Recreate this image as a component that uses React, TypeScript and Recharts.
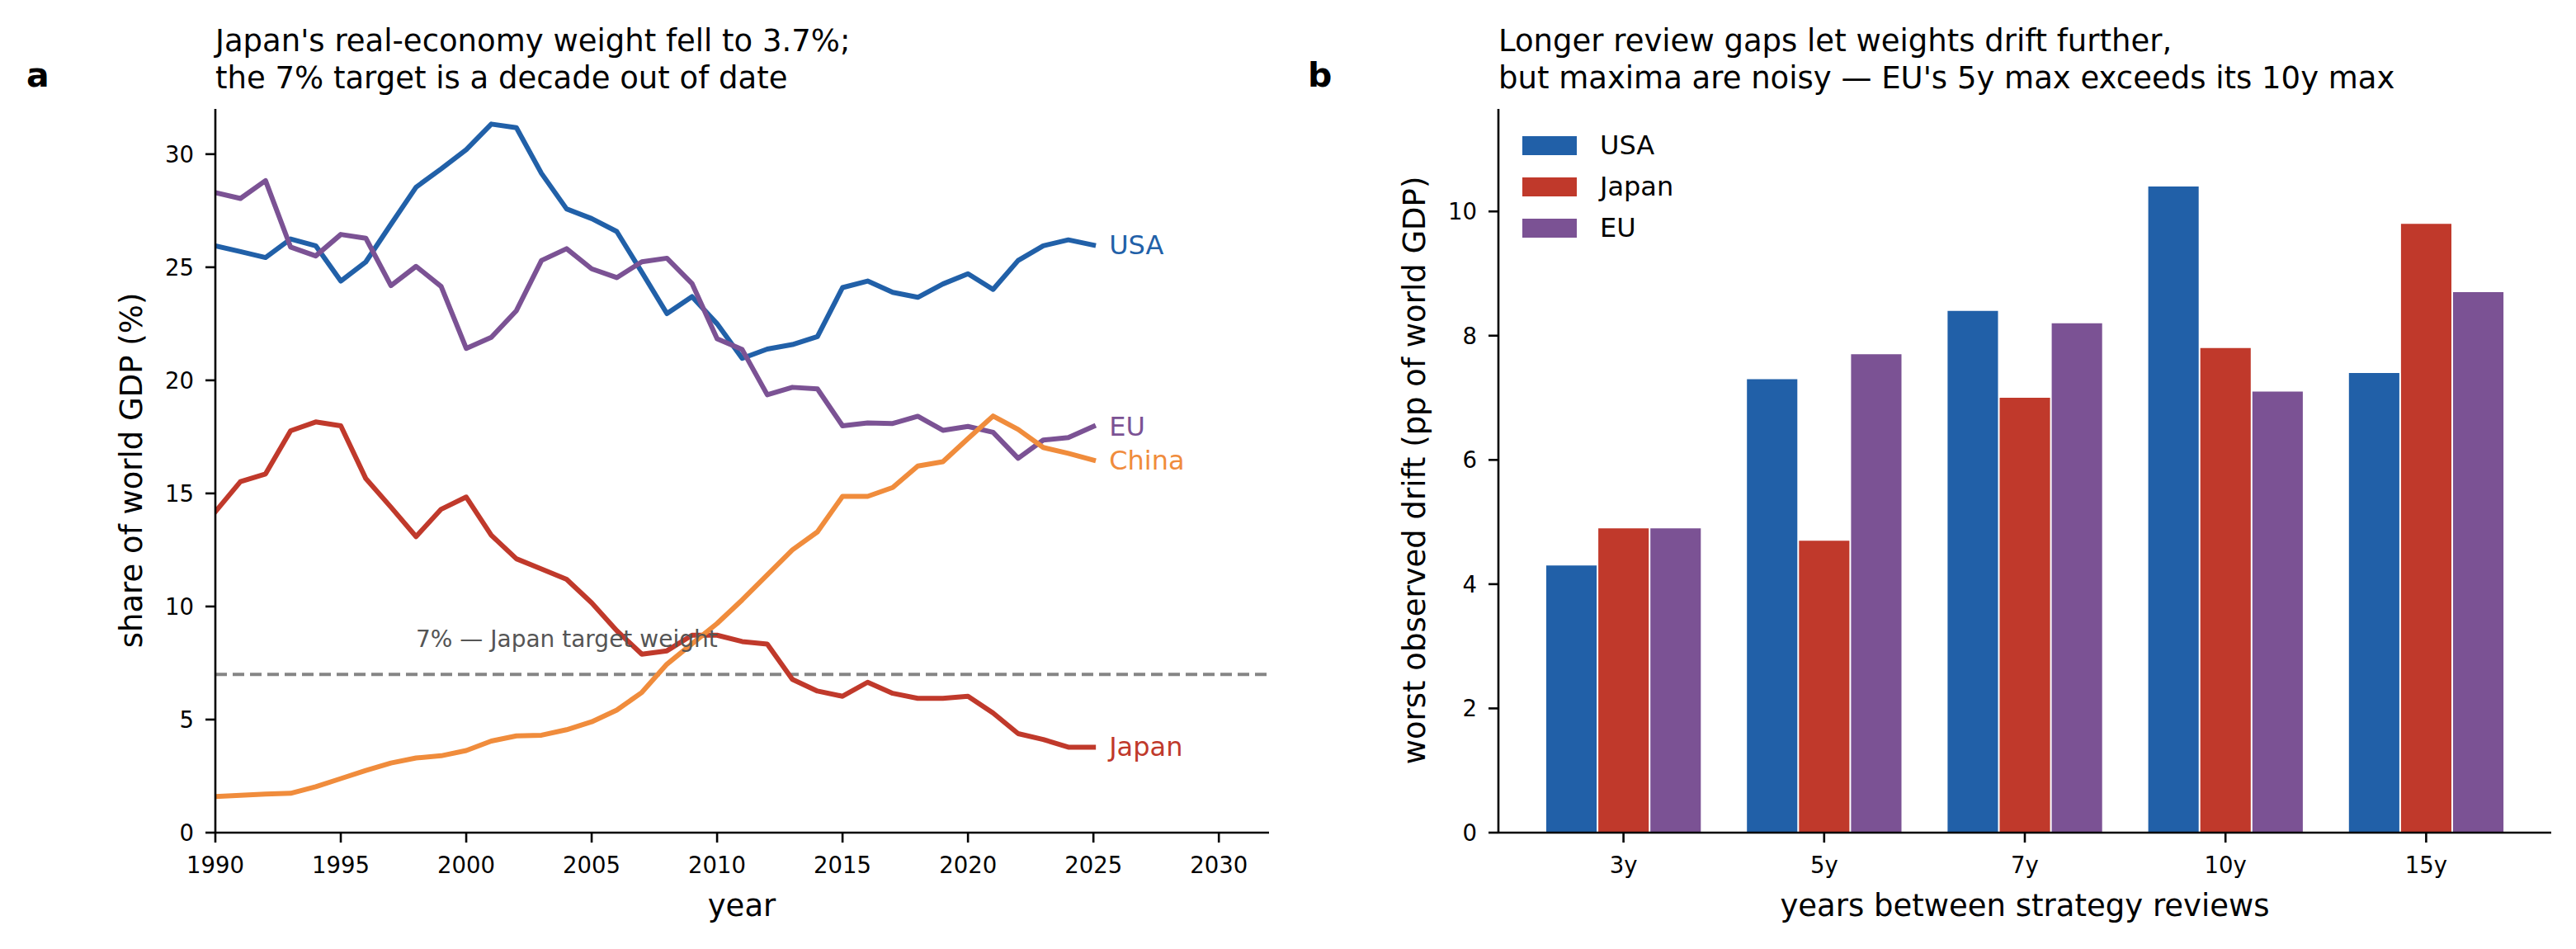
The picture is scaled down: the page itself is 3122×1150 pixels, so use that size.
import React from 'react';
import {
  LineChart, Line, XAxis, YAxis, ReferenceLine,
  BarChart, Bar, Legend,
} from 'recharts';

const FONT = '"DejaVu Sans", "Liberation Sans", sans-serif';

// ---------- panel a data ----------
const years = [
  1990, 1991, 1992, 1993, 1994, 1995, 1996, 1997, 1998, 1999,
  2000, 2001, 2002, 2003, 2004, 2005, 2006, 2007, 2008, 2009,
  2010, 2011, 2012, 2013, 2014, 2015, 2016, 2017, 2018, 2019,
  2020, 2021, 2022, 2023, 2024, 2025,
];
const usaShare = [
  25.95, 25.69, 25.43, 26.25, 25.95, 24.39, 25.24, 26.9, 28.54, 29.35,
  30.2, 31.33, 31.17, 29.15, 27.58, 27.15, 26.58, 24.78, 22.95, 23.7,
  22.5, 20.97, 21.38, 21.58, 21.93, 24.1, 24.39, 23.89, 23.67, 24.26,
  24.71, 24.02, 25.3, 25.95, 26.21, 25.98,
];
const japanShare = [
  14.19, 15.52, 15.86, 17.77, 18.16, 17.99, 15.65, 14.39, 13.09, 14.3,
  14.84, 13.15, 12.11, 11.66, 11.2, 10.16, 8.93, 7.89, 8.04, 8.73,
  8.73, 8.45, 8.34, 6.78, 6.26, 6.03, 6.65, 6.16, 5.94, 5.94,
  6.03, 5.29, 4.38, 4.12, 3.78, 3.78,
];
const euShare = [
  28.3, 28.04, 28.83, 25.89, 25.5, 26.45, 26.28, 24.19, 25.04, 24.15,
  21.41, 21.9, 23.08, 25.3, 25.82, 24.93, 24.54, 25.24, 25.4, 24.28,
  21.84, 21.36, 19.36, 19.69, 19.62, 17.99, 18.12, 18.09, 18.41, 17.79,
  17.96, 17.7, 16.55, 17.36, 17.47, 17.96,
];
const chinaShare = [
  1.6, 1.65, 1.71, 1.74, 2.03, 2.39, 2.75, 3.08, 3.3, 3.4,
  3.63, 4.05, 4.28, 4.31, 4.55, 4.9, 5.42, 6.2, 7.45, 8.35,
  9.25, 10.29, 11.4, 12.5, 13.3, 14.87, 14.87, 15.26, 16.21, 16.4,
  17.42, 18.42, 17.83, 17.03, 16.77, 16.47,
];
const yearTicks = [1990, 1995, 2000, 2005, 2010, 2015, 2020, 2025, 2030];
const shareTicks = [0, 5, 10, 15, 20, 25, 30];
const japanTarget = 7;

// ---------- panel b data ----------
const reviewGaps = ['3y', '5y', '7y', '10y', '15y'];
const usaDrift = [4.3, 7.3, 8.4, 10.4, 7.4];
const japanDrift = [4.9, 4.7, 7.0, 7.8, 9.8];
const euDrift = [4.9, 7.7, 8.2, 7.1, 8.7];
const driftTicks = [0, 2, 4, 6, 8, 10];

const COLORS: Record<string, string> = {
  USA: '#2160a8',
  Japan: '#c0392b',
  EU: '#7b5294',
  China: '#f08c3c',
};

const lineSeries = ['USA', 'Japan', 'EU', 'China'];
const barSeries = ['USA', 'Japan', 'EU'];

const lineData = years.map((year, i) => ({
  year,
  USA: usaShare[i],
  Japan: japanShare[i],
  EU: euShare[i],
  China: chinaShare[i],
}));

const barData = reviewGaps.map((gap, i) => ({
  gap,
  USA: usaDrift[i],
  Japan: japanDrift[i],
  EU: euDrift[i],
}));

const tickStyle = { fill: '#000', fontSize: 27.5, fontFamily: FONT };
const axisLineStyle = { stroke: '#000', strokeWidth: 2.6 };
const tickLineStyle = { stroke: '#000', strokeWidth: 2.6 };

const makeEndLabel = (name: string) => (props: any) => {
  const { x, y, index } = props;
  if (index !== years.length - 1) return <g />;
  return (
    <text
      x={x + 19}
      y={y}
      dominantBaseline="central"
      fontSize={32}
      fontFamily={FONT}
      fill={COLORS[name]}
    >
      {name}
    </text>
  );
};

const LegendBox = () => (
  <div style={{ fontFamily: FONT }}>
    {barSeries.map((name) => (
      <div
        key={name}
        style={{ display: 'flex', alignItems: 'center', height: 50 }}
      >
        <div style={{ width: 66, height: 23, background: COLORS[name] }} />
        <div
          style={{
            marginLeft: 28,
            fontSize: 32,
            lineHeight: '50px',
            color: '#000',
            whiteSpace: 'nowrap',
          }}
        >
          {name}
        </div>
      </div>
    ))}
  </div>
);

export default function App() {
  return (
    <div
      style={{
        position: 'absolute',
        left: 0,
        top: 0,
        width: 3122,
        height: 1150,
        background: '#fff',
        fontFamily: FONT,
        overflow: 'hidden',
      }}
    >
      <div style={{ position: 'absolute', left: 0, top: 0 }}>
        <LineChart
          width={1600}
          height={1150}
          data={lineData}
          margin={{ top: 132, right: 62, bottom: 81, left: 161 }}
        >
          <XAxis
            dataKey="year"
            type="number"
            domain={[1990, 2032]}
            ticks={yearTicks}
            interval={0}
            height={60}
            tick={tickStyle}
            tickSize={12}
            tickMargin={17}
            axisLine={axisLineStyle}
            tickLine={tickLineStyle}
            allowDataOverflow
          />
          <YAxis
            type="number"
            domain={[0, 32]}
            ticks={shareTicks}
            interval={0}
            width={100}
            tick={tickStyle}
            tickSize={12}
            tickMargin={14}
            axisLine={axisLineStyle}
            tickLine={tickLineStyle}
            allowDataOverflow
          />
          <ReferenceLine
            y={japanTarget}
            stroke="#858585"
            strokeWidth={4}
            strokeDasharray="14 7"
          />
          {lineSeries.map((name) => (
            <Line
              key={name}
              type="linear"
              dataKey={name}
              stroke={COLORS[name]}
              strokeWidth={6}
              strokeLinecap="square"
              strokeLinejoin="round"
              dot={false}
              activeDot={false}
              isAnimationActive={false}
              label={makeEndLabel(name)}
            />
          ))}
        </LineChart>
      </div>

      <div style={{ position: 'absolute', left: 1560, top: 0 }}>
        <BarChart
          width={1562}
          height={1150}
          data={barData}
          margin={{ top: 132, right: 30, bottom: 81, left: 156 }}
          barGap={2}
        >
          <XAxis
            dataKey="gap"
            type="category"
            padding={{ left: 30, right: 30 }}
            height={60}
            interval={0}
            tick={tickStyle}
            tickSize={12}
            tickMargin={17}
            axisLine={axisLineStyle}
            tickLine={tickLineStyle}
          />
          <YAxis
            type="number"
            domain={[0, 11.65]}
            ticks={driftTicks}
            interval={0}
            width={100}
            tick={tickStyle}
            tickSize={12}
            tickMargin={14}
            axisLine={axisLineStyle}
            tickLine={tickLineStyle}
            allowDataOverflow
          />
          <Legend
            layout="vertical"
            align="center"
            verticalAlign="middle"
            content={() => <LegendBox />}
            wrapperStyle={{
              left: 285,
              top: 151,
              width: 'auto',
              height: 'auto',
              right: 'auto',
              bottom: 'auto',
            }}
          />
          {barSeries.map((name) => (
            <Bar
              key={name}
              dataKey={name}
              fill={COLORS[name]}
              barSize={61.1}
              isAnimationActive={false}
            />
          ))}
        </BarChart>
      </div>

      <svg
        width={3122}
        height={1150}
        style={{ position: 'absolute', left: 0, top: 0, pointerEvents: 'none' }}
        fontFamily={FONT}
      >
        {/* panel labels */}
        <text x={32} y={105} fontSize={41} fontWeight="bold" fill="#000">a</text>
        <text x={1585} y={105} fontSize={41} fontWeight="bold" fill="#000">b</text>

        {/* titles */}
        <text x={261} y={62} fontSize={37} fill="#000">
          Japan's real-economy weight fell to 3.7%;
        </text>
        <text x={261} y={107} fontSize={37} fill="#000">
          the 7% target is a decade out of date
        </text>
        <text x={1816} y={62} fontSize={37} fill="#000">
          Longer review gaps let weights drift further,
        </text>
        <text x={1816} y={107} fontSize={37} fill="#000">
          but maxima are noisy — EU's 5y max exceeds its 10y max
        </text>

        {/* axis labels */}
        <text x={899} y={1110} fontSize={37} textAnchor="middle" fill="#000">year</text>
        <text
          x={159}
          y={570}
          fontSize={37}
          textAnchor="middle"
          dominantBaseline="central"
          transform="rotate(-90 159 570)"
          fill="#000"
        >
          share of world GDP (%)
        </text>
        <text x={2454} y={1110} fontSize={37} textAnchor="middle" fill="#000">
          years between strategy reviews
        </text>
        <text
          x={1714}
          y={570}
          fontSize={37}
          textAnchor="middle"
          dominantBaseline="central"
          transform="rotate(-90 1714 570)"
          fill="#000"
        >
          worst observed drift (pp of world GDP)
        </text>

        {/* reference annotation */}
        <text x={504} y={784} fontSize={28} fill="#555555">
          7% — Japan target weight
        </text>
      </svg>
    </div>
  );
}
